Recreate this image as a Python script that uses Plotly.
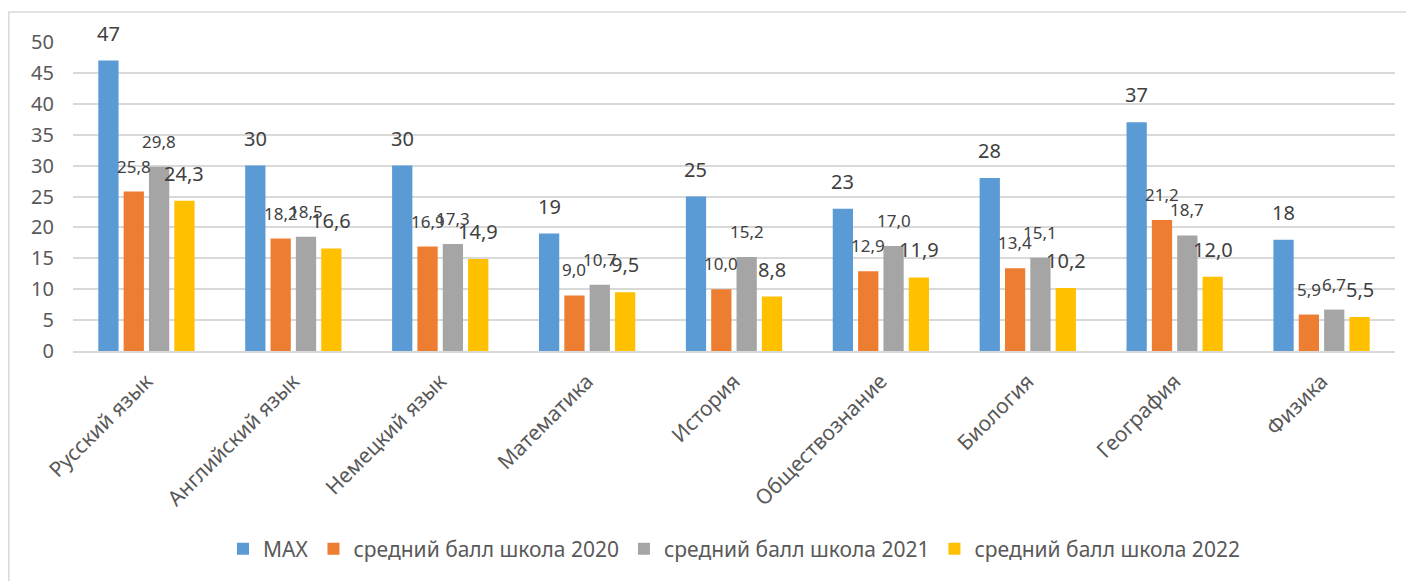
import plotly.graph_objects as go

categories = ["Русский язык", "Английский язык", "Немецкий язык", "Математика", "История",
              "Обществознание", "Биология", "География", "Физика"]
series_names = ["MAX", "средний балл школа 2020", "средний балл школа 2021", "средний балл школа 2022"]
max_vals = [47, 30, 30, 19, 25, 23, 28, 37, 18]
avg_2020 = [25.8, 18.2, 16.9, 9.0, 10.0, 12.9, 13.4, 21.2, 5.9]
avg_2021 = [29.8, 18.5, 17.3, 10.7, 15.2, 17.0, 15.1, 18.7, 6.7]
avg_2022 = [24.3, 16.6, 14.9, 9.5, 8.8, 11.9, 10.2, 12.0, 5.5]
colors = ["#5B9BD5", "#ED7D31", "#A5A5A5", "#FFC000"]

# page body has an 8px margin, so figure coords = page coords - 8
W, H = 1406, 573
ml, mr, mt, mb = 65, 19, 34, 230
font = "Noto Sans"
bargap = 0.31
label_sizes = [20, 17, 17, 20]

fig = go.Figure()
all_vals = [max_vals, avg_2020, avg_2021, avg_2022]
n = len(all_vals)
for k, (name, vals, col) in enumerate(zip(series_names, all_vals, colors)):
    fig.add_trace(go.Bar(
        x=categories, y=vals, name=name, marker=dict(color=col, line=dict(width=0)),
    ))
    for i, v in enumerate(vals):
        txt = str(v) if k == 0 else f"{v:.1f}".replace(".", ",")
        fig.add_annotation(
            x=i + (k - (n - 1) / 2) * (1 - bargap) / n, y=v, xref="x", yref="y",
            text=txt, showarrow=False, yanchor="bottom", yshift=12,
            font=dict(size=label_sizes[k], color="#404040", family=font),
        )

pw = W - ml - mr
ph = H - mt - mb
fig.add_shape(type="rect", xref="paper", yref="paper",
              x0=(0.8 - ml) / pw, x1=(1402 - ml) / pw,
              y0=(H - mb - 590) / ph, y1=(H - mb - 4) / ph,
              line=dict(color="#D9D9D9", width=1.5), layer="below")

fig.update_layout(
    width=W, height=H,
    margin=dict(l=ml, r=mr, t=mt, b=mb),
    paper_bgcolor="white", plot_bgcolor="white",
    barmode="group", bargap=bargap, bargroupgap=0.2,
    font=dict(family=font, color="#595959", size=15),
    showlegend=True,
    legend=dict(orientation="h", x=0.5, xanchor="center", y=(H - mb - 541) / ph, yanchor="middle",
                font=dict(size=21, color="#595959"), itemwidth=30, traceorder="normal"),
)
fig.update_xaxes(tickangle=-45, tickfont=dict(size=21, color="#595959"), showline=True,
                 linecolor="#D9D9D9", linewidth=1.5, ticks="", showgrid=False, automargin=False,
                 ticklabelstandoff=8)
fig.update_yaxes(range=[0, 50], dtick=5, showgrid=True, gridcolor="#D9D9D9", gridwidth=1.5,
                 zeroline=False, tickfont=dict(size=20, color="#595959"), ticks="",
                 ticklabelstandoff=18, automargin=False)

fig.write_html("out.html")
